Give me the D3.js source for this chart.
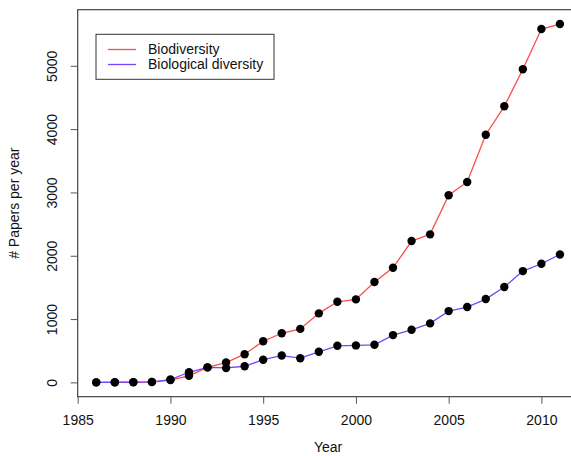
<!DOCTYPE html>
<html>
<head>
<meta charset="utf-8">
<script src="https://cdn.jsdelivr.net/npm/d3@7"></script>
<style>
  body { margin: 0; background: #fff; }
  text { font-family: "Liberation Sans", Arial, sans-serif; fill: #111; }
</style>
</head>
<body>
<div id="viz"></div>
<script>
var years = d3.range(1986, 2012);

var biodiversity = [0, 0, 2, 5, 36, 104, 237, 313, 445, 650, 776, 845, 1090, 1273, 1311,
                    1585, 1810, 2232, 2338, 2955, 3166, 3912, 4360, 4945, 5581, 5660];

var biologicalDiversity = [0, 2, 4, 8, 45, 160, 237, 228, 255, 358, 424, 382, 483, 578, 584,
                           594, 747, 831, 932, 1126, 1190, 1316, 1506, 1758, 1874, 2020];

var xTicks = [1985, 1990, 1995, 2000, 2005, 2010];
var yTicks = [0, 1000, 2000, 3000, 4000, 5000];

var seriesNames = ['Biodiversity', 'Biological diversity'];
var seriesColors = ['#ff4a4a', '#7447ff'];

var width = 571, height = 456;
var box = {left: 77.7, right: 578.5, top: 9.7, bottom: 396.7};

var svg = d3.select('#viz').append('svg')
  .attr('width', width)
  .attr('height', height);

// R style: 4% padding on the data range
var x = d3.scaleLinear()
  .domain([1985, 2012])
  .range([box.left, box.right]);

var y = d3.scaleLinear()
  .domain([-226, 5886])
  .range([box.bottom, box.top]);

// plot frame
svg.append('rect')
  .attr('x', box.left)
  .attr('y', box.top)
  .attr('width', box.right - box.left)
  .attr('height', box.bottom - box.top)
  .attr('fill', 'none')
  .attr('stroke', '#333')
  .attr('stroke-width', 1.1);

// x axis
var xAxis = svg.append('g')
  .attr('transform', 'translate(0,' + box.bottom + ')')
  .call(d3.axisBottom(x).tickValues(xTicks).tickFormat(d3.format('d'))
    .tickSize(7).tickPadding(11).tickSizeOuter(0));
xAxis.select('.domain').remove();
xAxis.selectAll('line').attr('stroke', '#555');
xAxis.selectAll('text').attr('font-size', 14).style('font-family', '"Liberation Sans", Arial, sans-serif').attr('fill', '#111');

// y axis (labels rotated like R's default las=0)
var yAxis = svg.append('g')
  .attr('transform', 'translate(' + box.left + ',0)')
  .call(d3.axisLeft(y).tickValues(yTicks).tickFormat(d3.format('d'))
    .tickSize(7).tickSizeOuter(0));
yAxis.select('.domain').remove();
yAxis.selectAll('line').attr('stroke', '#555');
yAxis.selectAll('text')
  .attr('x', null).attr('dy', null)
  .attr('font-size', 14)
  .style('font-family', '"Liberation Sans", Arial, sans-serif')
  .attr('fill', '#111')
  .attr('text-anchor', 'middle')
  .attr('dominant-baseline', 'central')
  .attr('transform', 'translate(-26,0) rotate(-90)');

// axis titles
svg.append('text')
  .attr('x', (box.left + box.right) / 2)
  .attr('y', 452)
  .attr('text-anchor', 'middle')
  .attr('font-size', 14)
  .text('Year');

svg.append('text')
  .attr('transform', 'translate(19,' + ((box.top + box.bottom) / 2) + ') rotate(-90)')
  .attr('text-anchor', 'middle')
  .attr('font-size', 14)
  .text('# Papers per year');

var line = d3.line()
  .x(function(d, i) { return x(years[i]); })
  .y(function(d) { return y(d); });

[biodiversity, biologicalDiversity].forEach(function(vals, k) {
  svg.append('path')
    .datum(vals)
    .attr('fill', 'none')
    .attr('stroke', seriesColors[k])
    .attr('stroke-width', 1.3)
    .attr('d', line);
});

[biodiversity, biologicalDiversity].forEach(function(vals) {
  svg.append('g').selectAll('circle')
    .data(vals)
    .join('circle')
    .attr('cx', function(d, i) { return x(years[i]); })
    .attr('cy', function(d) { return y(d); })
    .attr('r', 4.2)
    .attr('fill', '#000');
});

// legend
var legend = svg.append('g').attr('transform', 'translate(96,34.3)');
legend.append('rect')
  .attr('width', 178)
  .attr('height', 45)
  .attr('fill', '#fff')
  .attr('stroke', '#333');

seriesNames.forEach(function(name, k) {
  var ly = 15.2 + k * 15;
  legend.append('line')
    .attr('x1', 12).attr('x2', 40)
    .attr('y1', ly).attr('y2', ly)
    .attr('stroke', seriesColors[k])
    .attr('stroke-width', 1.3);
  legend.append('text')
    .attr('x', 52)
    .attr('y', ly)
    .attr('dominant-baseline', 'central')
    .attr('font-size', 14)
    .text(name);
});
</script>
</body>
</html>
